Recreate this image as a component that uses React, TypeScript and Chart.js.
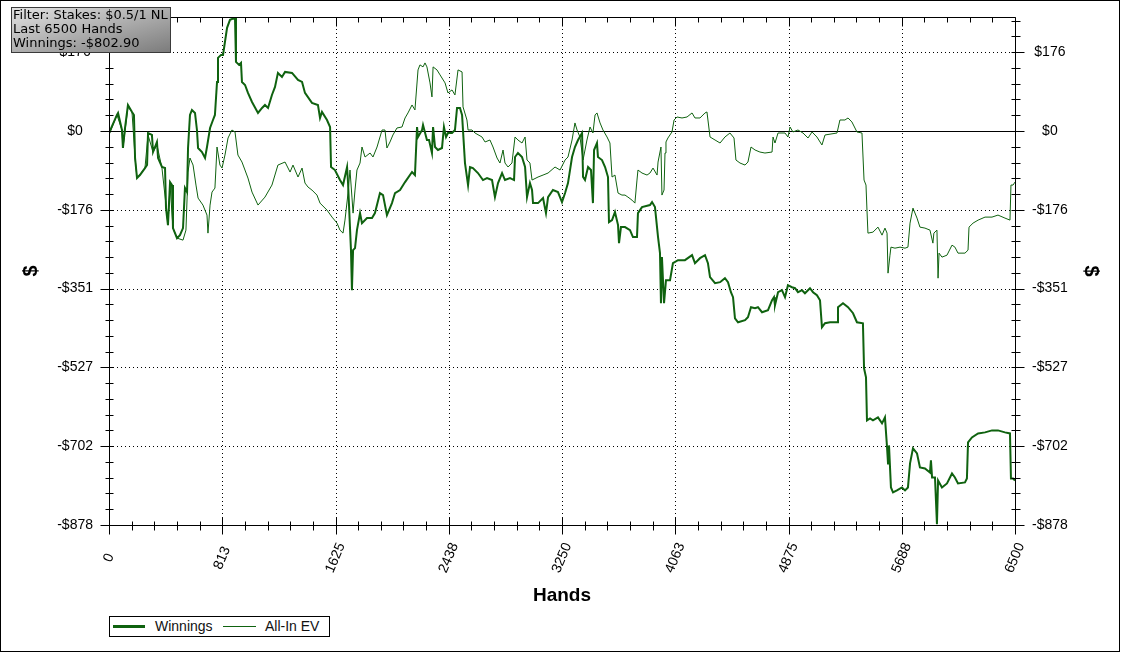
import React, { useEffect, useRef } from 'react';
import { Chart, registerables } from 'chart.js';

Chart.register(...registerables);

const FONT = '"Liberation Sans", Arial, Helvetica, sans-serif';
const LINE_COLOR = '#0f620f';

const X_MIN = 0;
const X_MAX = 6500;
const Y_MIN = -878;
const Y_MAX = 254;
const xTickValues = [0, 812.5, 1625, 2437.5, 3250, 4062.5, 4875, 5687.5, 6500];
const yTickValues = [-878, -702.4, -526.8, -351.2, -175.6, 0, 175.6];
const MINOR_DIV = 5;

const seriesNames = ['Winnings', 'All-In EV'];
const filterLines = ['Filter: Stakes: $0.5/1 NL', 'Last 6500 Hands', 'Winnings: -$802.90'];

const winHands = [0,57,65,93,100,115,136,165,179,187,201,222,258,273,280,308,316,344,352,380,402,409,423,438,452,459,488,509,531,545,560,567,581,595,617,631,639,667,689,703,725,746,760,775,782,804,818,847,868,904,911,933,947,954,976,997,1026,1069,1098,1119,1141,1169,1191,1212,1241,1263,1313,1356,1385,1406,1456,1499,1514,1528,1564,1586,1593,1621,1657,1679,1708,1715,1736,1743,1751,1765,1779,1801,1815,1851,1887,1908,1944,1966,1994,2030,2052,2088,2124,2174,2195,2210,2217,2246,2253,2281,2296,2317,2325,2339,2360,2389,2403,2418,2432,2461,2482,2497,2518,2533,2554,2576,2590,2611,2647,2683,2712,2748,2769,2791,2820,2841,2877,2906,2913,2934,2963,2985,2999,3020,3035,3042,3078,3114,3135,3150,3185,3221,3250,3272,3293,3322,3343,3365,3394,3401,3415,3437,3458,3472,3480,3501,3508,3537,3559,3580,3587,3609,3630,3652,3659,3673,3702,3738,3759,3788,3795,3824,3881,3896,3917,3939,3953,3960,3967,3982,3996,4025,4046,4082,4132,4183,4204,4240,4276,4297,4312,4348,4384,4419,4441,4462,4477,4491,4513,4563,4584,4606,4635,4656,4685,4728,4757,4771,4778,4800,4828,4850,4871,4900,4922,4943,4972,4993,5029,5051,5079,5101,5115,5137,5173,5223,5230,5266,5302,5338,5366,5409,5417,5431,5438,5460,5481,5517,5546,5567,5582,5589,5596,5610,5625,5653,5689,5711,5732,5747,5768,5797,5818,5854,5890,5897,5905,5926,5940,5948,5976,6012,6048,6069,6091,6141,6155,6163,6191,6235,6285,6335,6378,6428,6464,6471,6486,6500];

const winValues = [-4.5,35.7,40.2,2.2,-37.9,6.7,58.0,42.4,35.7,-60.2,-104.9,-98.2,-82.6,-75.9,-4.5,-8.9,-46.9,-24.5,-60.2,-80.3,-82.6,-171.8,-209.7,-113.8,-120.5,-216.4,-238.7,-232.1,-216.4,-127.2,-136.1,-37.9,35.7,46.9,40.2,2.2,-37.9,-46.9,-60.2,-35.7,6.7,24.5,35.7,109.3,162.9,169.6,169.6,229.8,247.7,252.1,154.0,147.3,151.7,109.3,102.6,84.8,64.7,40.2,51.3,58.0,51.3,80.3,98.2,129.4,120.5,131.6,129.4,113.8,109.3,84.8,62.5,58.0,29.0,42.4,24.5,8.9,-80.3,-87.0,-109.3,-120.5,-80.3,-116.0,-265.5,-354.8,-265.5,-261.1,-220.9,-183.0,-205.3,-194.1,-194.1,-183.0,-138.3,-142.8,-187.4,-160.7,-138.3,-131.6,-113.8,-91.5,-98.2,8.9,-13.4,2.2,13.4,-20.1,-20.1,-49.1,8.9,-35.7,-42.4,-37.9,8.9,-13.4,-4.5,-4.5,2.2,51.3,51.3,35.7,-71.4,-120.5,-80.3,-82.6,-93.7,-109.3,-104.9,-109.3,-147.3,-116.0,-93.7,-109.3,-104.9,-109.3,-58.0,-49.1,-58.0,-80.3,-147.3,-116.0,-131.6,-160.7,-160.7,-149.5,-183.0,-147.3,-131.6,-136.1,-158.4,-138.3,-116.0,-58.0,-35.7,-20.1,-4.5,-102.6,-109.3,-80.3,-87.0,-160.7,-42.4,-26.8,-58.0,-64.7,-80.3,-102.6,-203.1,-198.6,-180.7,-209.7,-249.9,-214.2,-214.2,-220.9,-236.5,-236.5,-183.0,-169.6,-165.1,-158.4,-169.6,-236.5,-272.2,-383.8,-281.1,-383.8,-332.5,-332.5,-294.5,-287.8,-287.8,-276.7,-294.5,-283.4,-276.7,-294.5,-325.8,-339.2,-336.9,-328.0,-336.9,-359.2,-370.4,-417.3,-426.2,-421.7,-415.0,-392.7,-394.9,-392.7,-403.9,-399.4,-377.1,-370.4,-388.3,-359.2,-354.8,-370.4,-343.6,-348.1,-350.3,-359.2,-354.8,-361.5,-350.3,-359.2,-365.9,-377.1,-437.3,-428.4,-426.2,-426.2,-392.7,-383.8,-392.7,-406.1,-426.2,-428.4,-528.8,-548.9,-644.8,-640.4,-644.8,-638.2,-651.5,-638.2,-705.1,-740.8,-700.6,-794.3,-805.5,-801.0,-794.3,-801.0,-794.3,-740.8,-707.3,-718.5,-749.7,-752.0,-760.9,-734.1,-772.0,-772.0,-876.0,-778.7,-794.3,-785.4,-763.1,-772.0,-785.4,-783.2,-774.3,-693.9,-682.8,-673.9,-671.6,-667.2,-667.2,-671.6,-673.9,-774.3,-774.3,-778.7];

const evHands = [0,57,93,100,136,165,187,201,258,280,316,344,380,409,423,438,459,488,531,552,567,581,603,624,639,674,703,710,725,739,760,775,796,811,832,854,882,904,925,954,997,1026,1069,1119,1169,1212,1263,1299,1320,1356,1385,1406,1428,1456,1492,1514,1564,1600,1636,1657,1679,1693,1715,1729,1743,1751,1765,1779,1801,1815,1837,1873,1894,1923,1959,1980,1994,2016,2037,2066,2102,2124,2145,2174,2195,2217,2231,2253,2267,2281,2303,2317,2325,2353,2375,2411,2432,2461,2482,2504,2533,2540,2568,2576,2604,2626,2676,2698,2733,2755,2784,2805,2827,2841,2863,2891,2913,2934,2963,2985,2999,3020,3035,3078,3114,3150,3200,3236,3272,3293,3322,3343,3358,3379,3401,3429,3451,3472,3487,3501,3523,3544,3573,3594,3609,3630,3652,3680,3702,3723,3752,3773,3788,3795,3824,3860,3881,3903,3932,3939,3960,3967,3982,3989,3996,4010,4039,4054,4075,4111,4147,4183,4204,4240,4276,4290,4312,4348,4384,4419,4455,4484,4498,4527,4563,4584,4606,4635,4670,4706,4757,4764,4778,4800,4850,4871,4886,4907,4943,4979,5015,5044,5079,5115,5137,5223,5244,5280,5302,5330,5366,5402,5417,5431,5438,5445,5481,5517,5546,5567,5582,5589,5603,5610,5639,5675,5711,5732,5747,5768,5797,5818,5854,5890,5911,5918,5940,5948,5955,5976,6012,6048,6069,6091,6141,6163,6170,6199,6235,6285,6335,6378,6428,6464,6471,6486,6500];

const evValues = [-8.9,35.7,2.2,-37.9,53.6,42.4,-60.2,-104.9,-82.6,-8.9,-46.9,-31.2,-82.6,-165.1,-209.7,-120.5,-216.4,-238.7,-243.2,-220.9,-91.5,-60.2,-75.9,-120.5,-149.5,-165.1,-187.4,-227.6,-165.1,-136.1,-127.2,-35.7,-75.9,-82.6,-53.6,-15.6,2.2,-2.2,-53.6,-69.2,-104.9,-136.1,-165.1,-147.3,-120.5,-75.9,-69.2,-91.5,-75.9,-102.6,-82.6,-116.0,-125.0,-131.6,-142.8,-160.7,-176.3,-191.9,-205.3,-220.9,-227.6,-198.6,-138.3,-87.0,-147.3,-183.0,-131.6,-87.0,-71.4,-35.7,-58.0,-49.1,-58.0,-35.7,2.2,2.2,-37.9,-24.5,-8.9,6.7,8.9,29.0,40.2,58.0,46.9,136.1,147.3,142.8,151.7,142.8,107.1,75.9,142.8,136.1,125.0,107.1,84.8,91.5,80.3,136.1,131.6,53.6,24.5,2.2,2.2,-4.5,-13.4,-24.5,-20.1,-35.7,-60.2,-71.4,-42.4,-71.4,-80.3,-71.4,-13.4,-20.1,-26.8,-13.4,-64.7,-71.4,-109.3,-102.6,-98.2,-93.7,-80.3,-87.0,-64.7,-58.0,-20.1,17.9,2.2,-13.4,-64.7,-20.1,8.9,-4.5,35.7,40.2,17.9,2.2,-13.4,-26.8,-102.6,-98.2,-138.3,-142.8,-142.8,-147.3,-154.0,-160.7,-109.3,-87.0,-93.7,-98.2,-93.7,-82.6,-98.2,-69.2,-35.7,-142.8,-131.6,-49.1,-24.5,-15.6,-2.2,24.5,31.2,29.0,31.2,40.2,29.0,29.0,40.2,42.4,-13.4,-20.1,-26.8,-13.4,-4.5,-15.6,-64.7,-71.4,-75.9,-69.2,-35.7,-42.4,-46.9,-49.1,-46.9,-13.4,-26.8,-4.5,-4.5,-13.4,8.9,-2.2,2.2,-4.5,-15.6,-2.2,-13.4,-31.2,-8.9,-4.5,24.5,24.5,29.0,20.1,-2.2,-4.5,-109.3,-120.5,-176.3,-227.6,-225.4,-214.2,-232.1,-216.4,-227.6,-316.8,-276.7,-258.8,-261.1,-258.8,-261.1,-258.8,-205.3,-171.8,-194.1,-214.2,-216.4,-220.9,-249.9,-227.6,-220.9,-328.0,-272.2,-281.1,-276.7,-254.4,-258.8,-272.2,-272.2,-265.5,-214.2,-205.3,-198.6,-191.9,-191.9,-187.4,-194.1,-198.6,-120.5,-120.5,-113.8];

const toPoints = (hs: number[], vs: number[]) => hs.map((h, i) => ({ x: h, y: vs[i] }));

const fmtDollar = (v: number) => {
  const r = Math.round(Math.abs(v));
  return (v < -0.0001 ? '-' : '') + '$' + r;
};

const decorPlugin = {
  id: 'decor',
  beforeDatasetsDraw(chart: any) {
    const { ctx, chartArea: a, scales } = chart;
    const xs = scales.x;
    const ys = scales.y;
    ctx.save();
    ctx.strokeStyle = '#000';
    ctx.lineWidth = 1;
    ctx.setLineDash([1, 3]);
    for (const t of ys.ticks) {
      if (t.value === 0 || t.value <= Y_MIN) continue;
      const py = Math.round(ys.getPixelForValue(t.value)) + 0.5;
      ctx.beginPath();
      ctx.moveTo(a.left, py);
      ctx.lineTo(a.right, py);
      ctx.stroke();
    }
    for (const t of xs.ticks) {
      if (t.value <= X_MIN || t.value >= X_MAX) continue;
      const px = Math.round(xs.getPixelForValue(t.value)) + 0.5;
      ctx.beginPath();
      ctx.moveTo(px, a.top);
      ctx.lineTo(px, a.bottom);
      ctx.stroke();
    }
    ctx.setLineDash([]);
    const zy = Math.round(ys.getPixelForValue(0)) + 0.5;
    ctx.beginPath();
    ctx.moveTo(a.left, zy);
    ctx.lineTo(a.right, zy);
    ctx.stroke();
    ctx.restore();
  },
  afterDatasetsDraw(chart: any) {
    const { ctx, chartArea: a, scales } = chart;
    const xs = scales.x;
    const ys = scales.y;
    ctx.save();
    ctx.strokeStyle = '#000';
    ctx.lineWidth = 1;
    const L = Math.round(a.left) + 0.5;
    const R = Math.round(a.right) + 0.5;
    const T = Math.round(a.top) + 0.5;
    const B = Math.round(a.bottom) + 0.5;
    ctx.beginPath();
    ctx.moveTo(L, T); ctx.lineTo(R, T);
    ctx.moveTo(L, B); ctx.lineTo(R, B);
    ctx.moveTo(L, T); ctx.lineTo(L, B);
    ctx.moveTo(R, T); ctx.lineTo(R, B);
    ctx.stroke();

    const yStep = (yTickValues[1] - yTickValues[0]) / MINOR_DIV;
    ctx.beginPath();
    for (let k = 0; Y_MIN + k * yStep <= Y_MAX + 0.001; k++) {
      const v = Y_MIN + k * yStep;
      const py = Math.round(ys.getPixelForValue(v)) + 0.5;
      const major = k % MINOR_DIV === 0;
      if (major) {
        ctx.moveTo(L - 9, py); ctx.lineTo(L + 4, py);
        ctx.moveTo(R - 4, py); ctx.lineTo(R + 9, py);
      } else {
        ctx.moveTo(L - 4, py); ctx.lineTo(L + 4, py);
        ctx.moveTo(R - 4, py); ctx.lineTo(R + 5, py);
      }
    }
    const xStep = (xTickValues[1] - xTickValues[0]) / MINOR_DIV;
    for (let k = 0; X_MIN + k * xStep <= X_MAX + 0.001; k++) {
      const v = X_MIN + k * xStep;
      const px = Math.round(xs.getPixelForValue(v)) + 0.5;
      const major = k % MINOR_DIV === 0;
      if (major) {
        ctx.moveTo(px, B - 8); ctx.lineTo(px, B + 9);
        ctx.moveTo(px, T); ctx.lineTo(px, T + 9);
      } else {
        ctx.moveTo(px, B - 4); ctx.lineTo(px, B + 5);
        ctx.moveTo(px, T); ctx.lineTo(px, T + 5);
      }
    }
    ctx.stroke();

    ctx.fillStyle = '#000';
    ctx.font = '14px ' + FONT;
    ctx.textAlign = 'center';
    ctx.textBaseline = 'middle';
    for (const t of xs.ticks) {
      const px = xs.getPixelForValue(t.value);
      ctx.save();
      ctx.translate(px, a.bottom + 33);
      ctx.rotate(-67 * Math.PI / 180);
      ctx.fillText(String(Math.round(t.value)), 0, 0);
      ctx.restore();
    }

    ctx.strokeRect(0.5, 0.5, 1119, 651);
    ctx.restore();
  },
};

const yAxis = (position: 'left' | 'right', pad: number, titlePad: number) => ({
  type: 'linear',
  position,
  min: Y_MIN,
  max: Y_MAX,
  afterBuildTicks: (s: any) => { s.ticks = yTickValues.map((v) => ({ value: v })); },
  afterFit: (s: any) => { s.width = 109; s.paddingTop = 0; s.paddingBottom = 0; },
  grid: { display: false, drawTicks: false },
  border: { display: false },
  ticks: {
    autoSkip: false,
    padding: pad,
    crossAlign: 'center',
    color: '#000',
    font: { size: 14, family: FONT },
    callback: (v: any) => fmtDollar(Number(v)),
  },
  title: {
    display: true,
    text: '$',
    color: '#000',
    font: { size: 20, weight: 'bold', family: FONT },
    padding: { top: titlePad, bottom: 0 },
  },
});

export default function App() {
  const ref = useRef<HTMLCanvasElement>(null);

  useEffect(() => {
    if (!ref.current) return;
    const chart = new Chart(ref.current, {
      type: 'line',
      data: {
        datasets: [
          {
            label: seriesNames[0],
            data: toPoints(winHands, winValues),
            borderColor: LINE_COLOR,
            borderWidth: 2,
            pointRadius: 0,
            tension: 0,
            fill: false,
          },
          {
            label: seriesNames[1],
            data: toPoints(evHands, evValues),
            borderColor: LINE_COLOR,
            borderWidth: 1,
            pointRadius: 0,
            tension: 0,
            fill: false,
          },
        ],
      },
      options: {
        responsive: false,
        maintainAspectRatio: false,
        devicePixelRatio: 1,
        animation: false,
        layout: { padding: { top: 17, left: 0, right: 0, bottom: 0 } },
        plugins: { legend: { display: false }, tooltip: { enabled: false } },
        scales: {
          x: {
            type: 'linear',
            position: 'bottom',
            min: X_MIN,
            max: X_MAX,
            afterBuildTicks: (s: any) => { s.ticks = xTickValues.map((v) => ({ value: v })); },
            afterFit: (s: any) => { s.height = 128; s.paddingLeft = 0; s.paddingRight = 0; },
            grid: { display: false, drawTicks: false },
            border: { display: false },
            ticks: { display: false },
            title: {
              display: true,
              text: 'Hands',
              color: '#000',
              font: { size: 19, weight: 'bold', family: FONT },
              padding: { top: 0, bottom: 45.6 },
            },
          },
          y: yAxis('left', 16, 19) as any,
          y2: yAxis('right', 17, 21) as any,
        },
      } as any,
      plugins: [decorPlugin],
    });
    return () => chart.destroy();
  }, []);

  return (
    <div style={{ position: 'fixed', left: 0, top: 0, width: 1124, height: 653, background: '#fff', overflow: 'hidden' }}>
      <canvas ref={ref} width={1124} height={653} style={{ display: 'block', width: 1124, height: 653 }} />
      <div
        style={{
          position: 'absolute', left: 11, top: 7, width: 160, height: 46, boxSizing: 'border-box',
          border: '1px solid #3a3a3a',
          background: 'linear-gradient(to bottom right, #e2e2e2 0%, #b4b4b4 45%, #7c7c7c 100%)',
          fontFamily: '"DejaVu Sans", Verdana, sans-serif', fontSize: 13, lineHeight: '14px',
          color: '#000', paddingLeft: 1, paddingTop: 0, whiteSpace: 'nowrap',
        }}
      >
        {filterLines.map((l) => (<div key={l}>{l}</div>))}
      </div>
      <div
        style={{
          position: 'absolute', left: 109, top: 616, width: 221, height: 21, boxSizing: 'border-box',
          border: '1px solid #000', background: '#fff', fontFamily: FONT, fontSize: 14, color: '#111',
        }}
      >
        <div style={{ position: 'absolute', left: 3, top: 8, width: 32, height: 3, background: LINE_COLOR }} />
        <div style={{ position: 'absolute', left: 45, top: 1, lineHeight: '17px' }}>{seriesNames[0]}</div>
        <div style={{ position: 'absolute', left: 113, top: 9, width: 33, height: 1, background: LINE_COLOR }} />
        <div style={{ position: 'absolute', left: 155, top: 1, lineHeight: '17px' }}>{seriesNames[1]}</div>
      </div>
    </div>
  );
}
